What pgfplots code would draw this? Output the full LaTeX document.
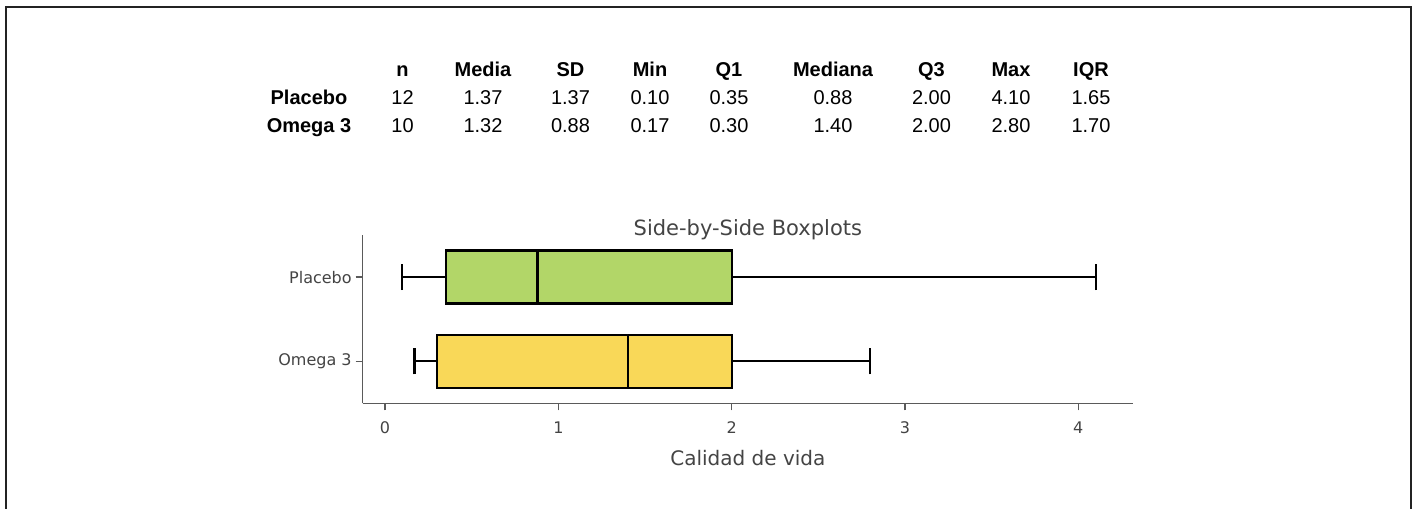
\documentclass[border=0pt]{standalone}
\usepackage{fontspec}
\setmainfont{Liberation Sans}
\newfontfamily\verd{DejaVu Sans}
\usepackage{pgfplots}
\pgfplotsset{compat=1.18}
\usepgfplotslibrary{statistics}
\definecolor{boxgreen}{RGB}{178,214,104}
\definecolor{boxyellow}{RGB}{249,216,88}
\definecolor{txtgray}{RGB}{68,68,68}
\definecolor{axgray}{RGB}{90,90,90}
\definecolor{framecol}{RGB}{35,35,35}
\newcommand\tabfont{\fontsize{10}{12}\selectfont}
\begin{document}
\begin{tikzpicture}
\path[use as bounding box] (0,0) rectangle (708pt,254pt);
\fill[white] (0,0) rectangle (708pt,254pt);
\draw[line width=1pt, framecol] (3.15pt,-2pt) -- (3.15pt,250.4pt) -- (705.5pt,250.4pt) -- (705.5pt,-2pt);
% summary table
\node[anchor=base, font=\bfseries\tabfont] at (154.5pt,201.85pt) {Placebo};
\node[anchor=base, font=\bfseries\tabfont] at (154.5pt,187.65pt) {Omega 3};
\foreach \x/\h/\a/\b in {201.25/n/12/10, 241.5/Media/1.37/1.32, 285.25/SD/1.37/0.88, 325/Min/0.10/0.17, 364.5/Q1/0.35/0.30, 416.5/Mediana/0.88/1.40, 465.75/Q3/2.00/2.00, 505.5/Max/4.10/2.80, 545.5/IQR/1.65/1.70} {
  \node[anchor=base, font=\bfseries\tabfont] at (\x pt,215.65pt) {\h};
  \node[anchor=base, font=\tabfont] at (\x pt,201.85pt) {\a};
  \node[anchor=base, font=\tabfont] at (\x pt,187.65pt) {\b};
}
\begin{axis}[
  at={(181.35pt,52.35pt)}, anchor=south west,
  scale only axis, width=385.15pt, height=84.15pt,
  xmin=-0.1287, xmax=4.3155, ymin=-0.5, ymax=1.5,
  axis x line*=bottom, axis y line*=left,
  axis line style={draw=axgray, line width=0.6pt, -},
  xtick={0,1,2,3,4}, ytick={0,1}, yticklabels={Omega 3,Placebo},
  tick align=outside, major tick length=3.5pt,
  tick style={draw=axgray, line width=0.6pt},
  tick label style={font=\verd\fontsize{8}{9}\selectfont, text=txtgray},
  xticklabel style={yshift=-2pt},
  yticklabel style={xshift=1.5pt},
  /pgf/number format/assume math mode=true,
  title={Side-by-Side Boxplots},
  title style={font=\verd\fontsize{10.5}{12}\selectfont, text=txtgray, anchor=base, at={(axis description cs:0.5,1)}, yshift=-6.5pt},
  xlabel={Calidad de vida},
  xlabel style={font=\verd\fontsize{10}{12}\selectfont, text=txtgray, at={(axis description cs:0.5,0)}, anchor=base, yshift=-31pt},
]
\addplot[boxplot prepared={draw position=1, lower whisker=0.10, lower quartile=0.35, median=0.88, upper quartile=2.00, upper whisker=4.10, box extend=0.63, whisker extend=0.31}, draw=black, fill=boxgreen, line width=1.1pt] coordinates {};
\addplot[boxplot prepared={draw position=0, lower whisker=0.17, lower quartile=0.30, median=1.40, upper quartile=2.00, upper whisker=2.80, box extend=0.63, whisker extend=0.31}, draw=black, fill=boxyellow, line width=1.1pt] coordinates {};
\end{axis}
\end{tikzpicture}
\end{document}
